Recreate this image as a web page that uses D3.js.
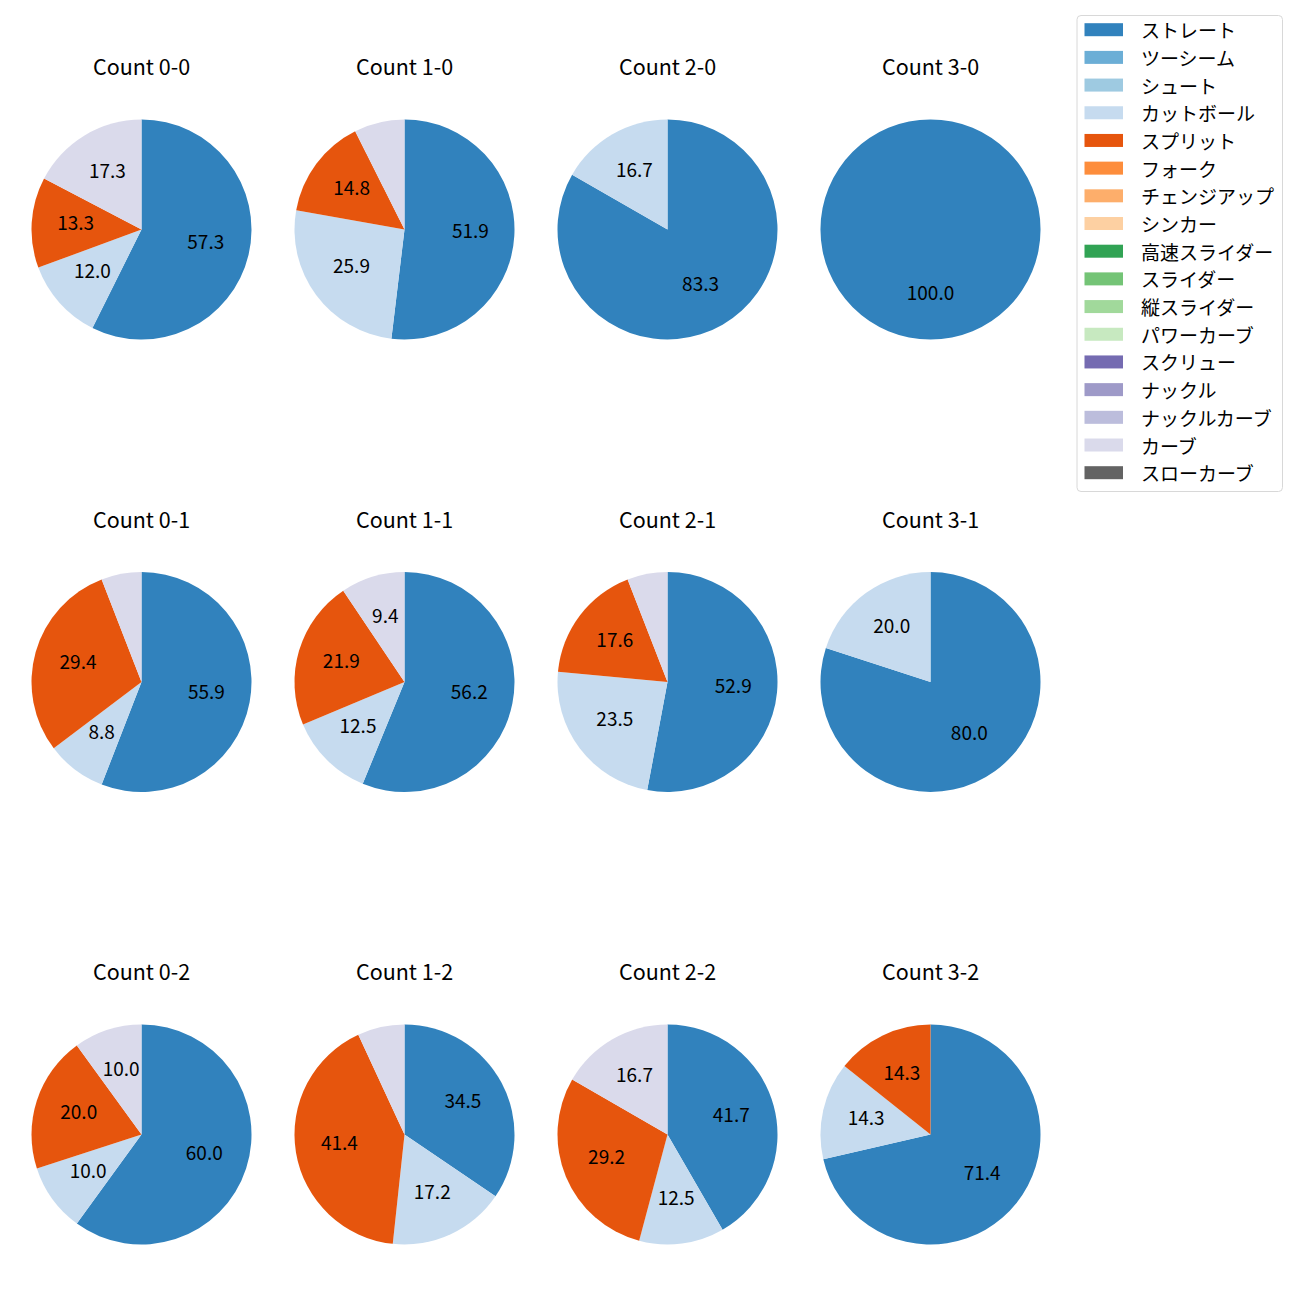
<!DOCTYPE html>
<html><head><meta charset="utf-8">
<script src="https://cdn.jsdelivr.net/npm/d3@7"></script>
<style>body{margin:0;background:#fff}svg{display:block}text{font-family:"Noto Sans CJK JP","Noto Sans",sans-serif}</style>
</head><body>
<script>
const pitchTypes = ["ストレート","ツーシーム","シュート","カットボール","スプリット","フォーク","チェンジアップ","シンカー","高速スライダー","スライダー","縦スライダー","パワーカーブ","スクリュー","ナックル","ナックルカーブ","カーブ","スローカーブ"];
const pitchColors = ["#3182bd","#6baed6","#9ecae1","#c6dbef","#e6550d","#fd8d3c","#fdae6b","#fdd0a2","#31a354","#74c476","#a1d99b","#c7e9c0","#756bb1","#9e9ac8","#bcbddc","#dadaeb","#636363"];
const countTitles = ["Count 0-0","Count 1-0","Count 2-0","Count 3-0","Count 0-1","Count 1-1","Count 2-1","Count 3-1","Count 0-2","Count 1-2","Count 2-2","Count 3-2"];
// values per count: [ストレート, カットボール, スプリット, カーブ]
const shownTypes = ["ストレート","カットボール","スプリット","カーブ"];
const v00 = [57.3,12.0,13.3,17.3];
const v10 = [51.9,25.9,14.8,7.4];
const v20 = [83.3,16.7,0,0];
const v30 = [100.0,0,0,0];
const v01 = [55.9,8.8,29.4,5.9];
const v11 = [56.2,12.5,21.9,9.4];
const v21 = [52.9,23.5,17.6,5.9];
const v31 = [80.0,20.0,0,0];
const v02 = [60.0,10.0,20.0,10.0];
const v12 = [34.5,17.2,41.4,6.9];
const v22 = [41.7,12.5,29.2,16.7];
const v32 = [71.4,14.3,14.3,0];
const countValues = [v00,v10,v20,v30,v01,v11,v21,v31,v02,v12,v22,v32];
const labelThreshold = 8;

const W=1300,H=1300, FS=19, TFS=21.5;
const svg=d3.select("body").append("svg").attr("width",W).attr("height",H);
const colScale=d3.scalePoint().domain([0,1,2,3]).range([141.5,930.5]);
const rowScale=d3.scalePoint().domain([0,1,2]).range([229.5,1134.5]);
const color=d3.scaleOrdinal().domain(pitchTypes).range(pitchColors);
const R=110;
const pie=d3.pie().sort(null).value(d=>d.v).startAngle(0).endAngle(2*Math.PI);
const arc=d3.arc().innerRadius(0).outerRadius(R);
const labelArc=d3.arc().innerRadius(R*0.6).outerRadius(R*0.6);

countValues.forEach((vals,i)=>{
  const cx=colScale(i%4), cy=rowScale(Math.floor(i/4));
  const g=svg.append("g").attr("transform",`translate(${cx},${cy})`);
  const data=shownTypes.map((t,j)=>({t,v:vals[j]})).filter(d=>d.v>0);
  const arcs=pie(data);
  g.selectAll("path").data(arcs).join("path").attr("d",arc).attr("fill",d=>color(d.data.t));
  g.selectAll("text.lab").data(arcs.filter(d=>d.data.v>=labelThreshold)).join("text").attr("class","lab")
    .attr("transform",d=>`translate(${labelArc.centroid(d)})`)
    .attr("text-anchor","middle").attr("dy",4.6)
    .attr("font-size",FS).attr("fill","#000").text(d=>d.data.v.toFixed(1));
  g.append("text").attr("x",0).attr("y",-154.5).attr("text-anchor","middle")
    .attr("font-size",TFS).attr("fill","#000").text(countTitles[i]);
});

// legend
const lg=svg.append("g");
lg.append("rect").attr("x",1077).attr("y",15.5).attr("width",205.5).attr("height",476).attr("rx",4)
  .attr("fill","#fff").attr("stroke","#d8d8d8").attr("stroke-width",1);
const ly=d3.scaleLinear().domain([0,16]).range([29.7,472.7]);
pitchTypes.forEach((t,k)=>{
  lg.append("rect").attr("x",1084.5).attr("y",ly(k)-6.5).attr("width",38.5).attr("height",13).attr("fill",color(t));
  lg.append("text").attr("x",1141).attr("y",ly(k)).attr("dominant-baseline","central").attr("font-size",FS).attr("fill","#000").text(t);
});
</script>
</body></html>
